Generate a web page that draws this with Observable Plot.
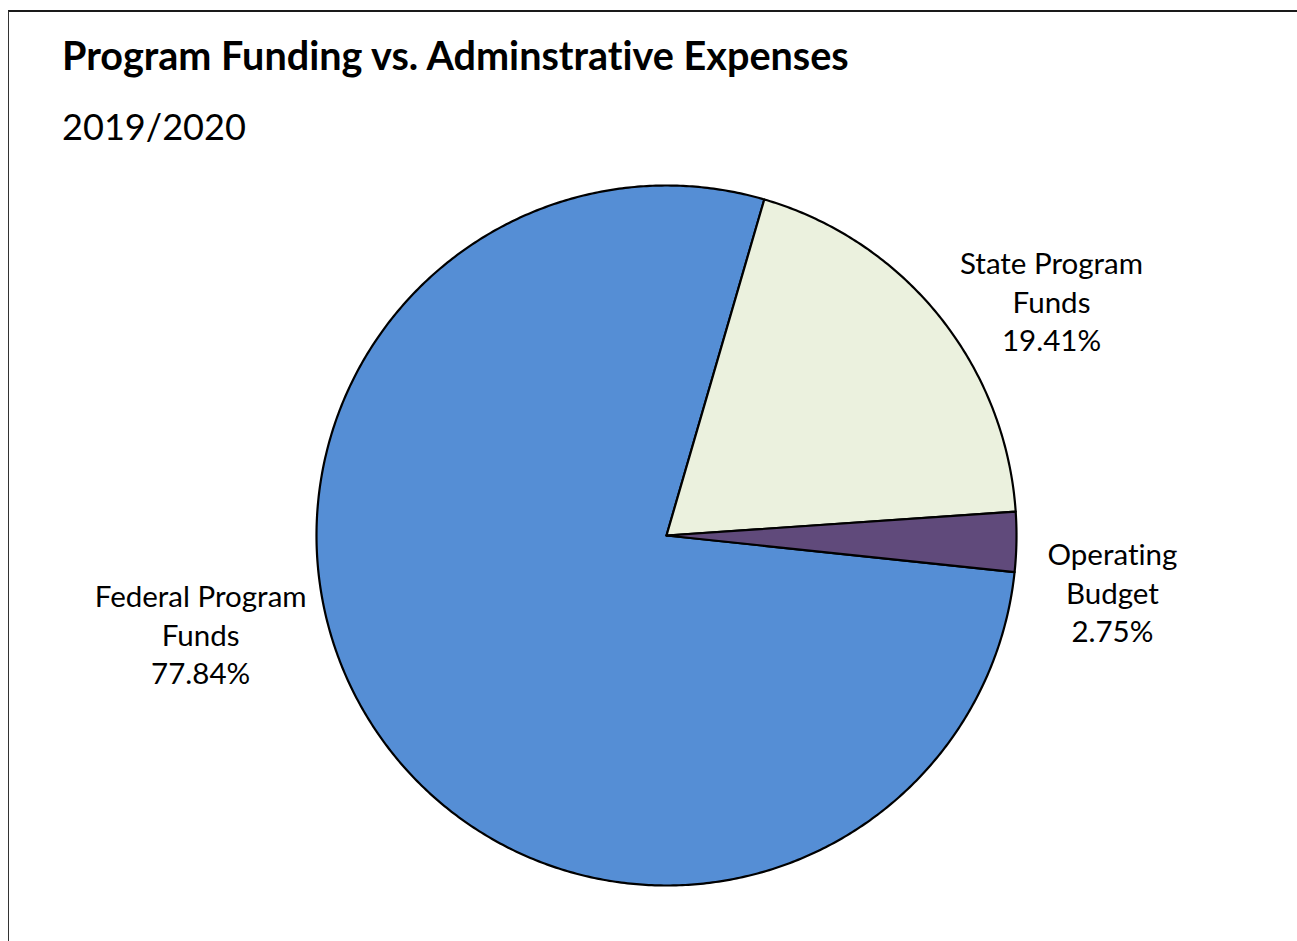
<!DOCTYPE html>
<html>
<head>
<meta charset="utf-8">
<script src="https://cdn.jsdelivr.net/npm/d3@7"></script>
<script src="https://cdn.jsdelivr.net/npm/@observablehq/plot@0.6"></script>
<style>
  html, body { margin: 0; padding: 0; background: #fff; }
  body { width: 1297px; height: 941px; overflow: hidden; position: relative; font-family: Lato, "Liberation Sans", sans-serif; font-variant-ligatures: none; }
  #frame { position: absolute; left: 8px; top: 10px; right: 0; bottom: 0; border-top: 2px solid #1a1a1a; border-left: 1px solid #333; }
  #title { position: absolute; left: 53px; top: 23px; font-weight: 700; color: #000; line-height: 1; white-space: nowrap; }
  #subtitle { position: absolute; left: 53px; top: 96px; font-weight: 400; color: #000; line-height: 1; white-space: nowrap; }
  #chart { position: absolute; left: 0; top: 148px; }
  svg text { font-variant-ligatures: none; }
</style>
</head>
<body>
<div id="frame">
  <div id="title">Program Funding vs. Adminstrative Expenses</div>
  <div id="subtitle">2019/2020</div>
  <div id="chart"></div>
</div>
<script>
// ---- data ----
const categories = ["Federal Program Funds", "State Program Funds", "Operating Budget"];
const shares = [77.84, 19.41, 2.75];
const labels = ["Federal Program\nFunds\n77.84%", "State Program\nFunds\n19.41%", "Operating\nBudget\n2.75%"];
const colors = ["#558ED5", "#EBF1DE", "#604A7B"];

// ---- layout (not data) ----
const FONT = 'Lato, "Liberation Sans", sans-serif';
const firstSliceAngle = 96; // degrees clockwise from 12 o'clock
const labelPos = { // label anchors, in units of the pie radius
  "Federal Program Funds": [-1.331, -0.280],
  "State Program Funds": [1.10, 0.672],
  "Operating Budget": [1.274, -0.160]
};

// fit font sizes to target widths
const ctx = document.createElement("canvas").getContext("2d");
function fitSize(text, weight, targetW) {
  ctx.font = `${weight} 100px ${FONT}`;
  return 100 * targetW / ctx.measureText(text).width;
}
const titleSize = fitSize("Program Funding vs. Adminstrative Expenses", 700, 790);
const subSize = fitSize("2019/2020", 400, 184);
const labelSize = fitSize("Federal Program", 400, 212);
document.getElementById("title").style.fontSize = titleSize + "px";
document.getElementById("subtitle").style.fontSize = subSize + "px";

// build slice polygons
const total = d3.sum(shares);
const rows = [];
let a = firstSliceAngle;
categories.forEach((c, i) => {
  const span = shares[i] / total * 360;
  const a0 = a, a1 = a + span;
  rows.push({category: c, x: 0, y: 0});
  const n = Math.max(2, Math.ceil(span / 0.5));
  for (let k = 0; k <= n; k++) {
    const t = (a0 + (a1 - a0) * k / n) * Math.PI / 180;
    rows.push({category: c, x: Math.sin(t), y: Math.cos(t)});
  }
  rows.push({category: c, x: 0, y: 0});
  a = a1;
});

const labelRows = categories.map((c, i) => ({category: c, text: labels[i], x: labelPos[c][0], y: labelPos[c][1]}));

const W = 1288, H = 781;
const cx = 657, cy = 375, R = 350;

const chart = Plot.plot({
  width: W,
  height: H,
  margin: 0,
  x: {domain: [-1, 1], range: [cx - R, cx + R], axis: null},
  y: {domain: [-1, 1], range: [cy + R, cy - R], axis: null},
  color: {domain: categories, range: colors},
  style: {fontFamily: FONT, background: "transparent"},
  marks: [
    Plot.line(rows, {x: "x", y: "y", z: "category", fill: "category", stroke: "#000", strokeWidth: 2.2, strokeLinejoin: "round", curve: "linear"}),
    Plot.text(labelRows, {x: "x", y: "y", text: "text", fontSize: labelSize, lineHeight: 1.3, fill: "#000", textAnchor: "middle", lineAnchor: "middle"})
  ]
});
document.getElementById("chart").appendChild(chart);
</script>
</body>
</html>
